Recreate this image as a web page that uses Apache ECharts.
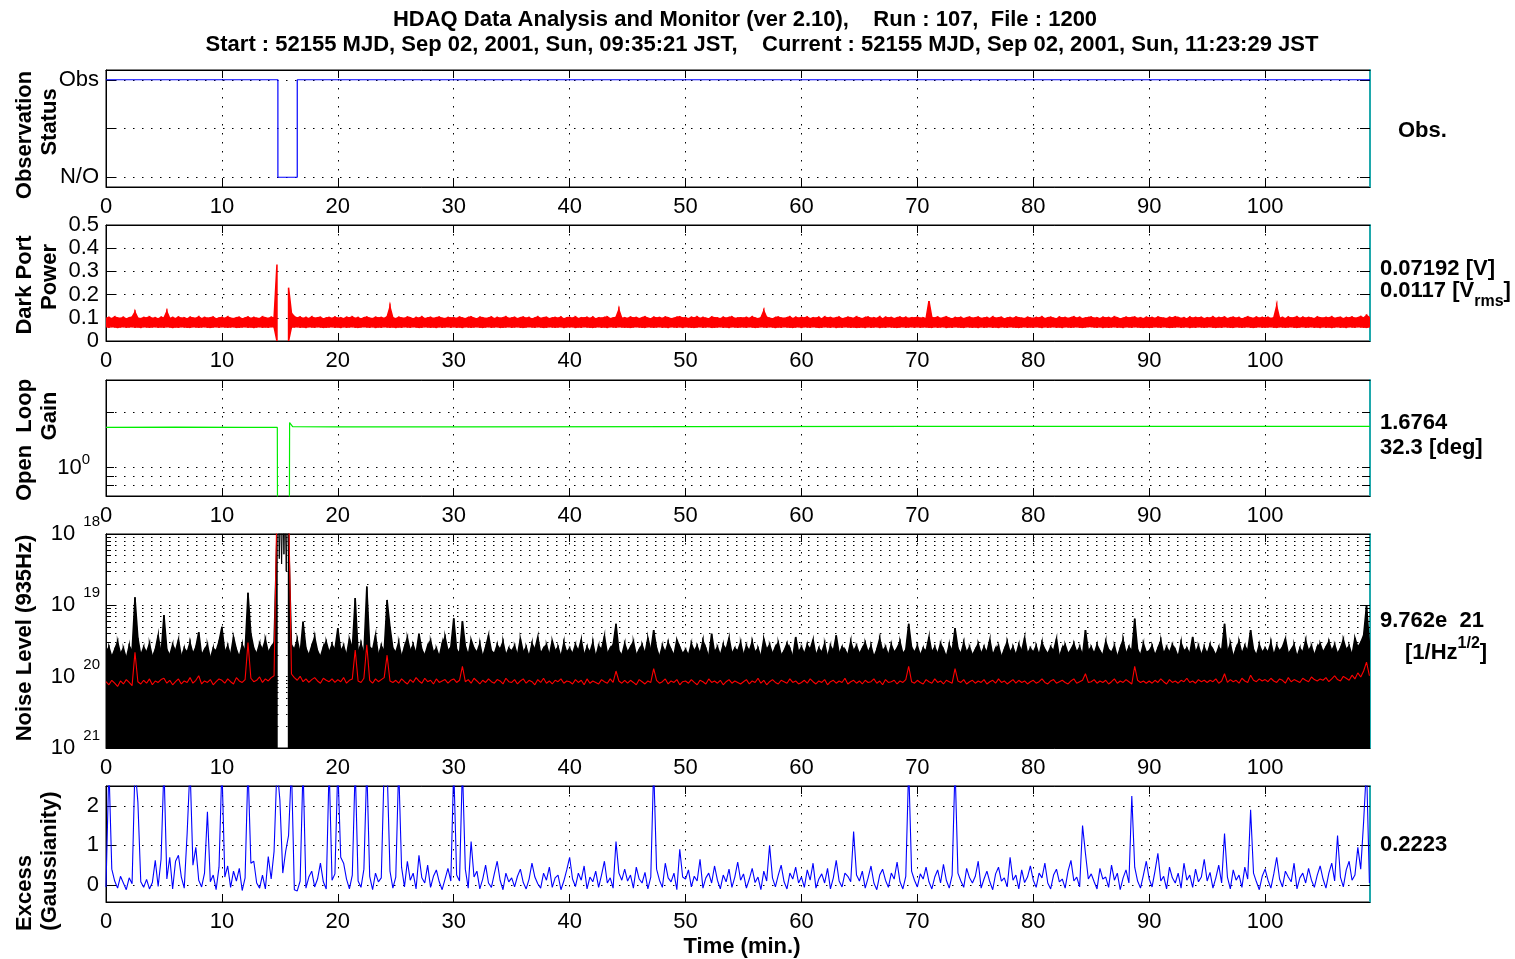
<!DOCTYPE html>
<html>
<head>
<meta charset="utf-8">
<title>HDAQ Data Analysis and Monitor</title>
<script src="https://cdn.jsdelivr.net/npm/echarts@6/dist/echarts.min.js"></script>
<style>
  html, body { margin: 0; padding: 0; background: #fff; }
  #chart { width: 1515px; height: 959px; }
</style>
</head>
<body>
<div id="chart"></div>
<script>
// ---------------------------------------------------------------------------
// Monitor data (one sample every SAMPLE_STEP minutes from run start)
// ---------------------------------------------------------------------------
const SAMPLE_STEP = 0.25;          // minutes between samples
const TIME_MAX = 109.05;           // right end of the time axis (min.)
const timeTicks = [0, 10, 20, 30, 40, 50, 60, 70, 80, 90, 100];

// Observation status (1 = Obs, 0 = N/O)
const obsTime  = [0, 14.83, 14.83, 16.5, 16.5, 109.05];
const obsState = [1, 1, 0, 0, 1, 1];
const obsTicks = [0, 0.5, 1];
const obsLabelValues = [0, 1];
const obsLabelText = ['N/O', 'Obs'];

// Dark port power, upper and lower edge of the trace [mV]
const darkTop = [
  98, 101, 96, 104, 99, 97, 102, 95, 100, 103, 125, 98, 96, 101, 99, 104, 97, 100, 95, 102,
  99, 127, 97, 101, 96, 103, 98, 100, 95, 102, 99, 97, 104, 96, 101, 98, 100, 103, 95, 99,
  101, 97, 104, 98, 96, 100, 102, 95, 99, 103, 97, 101, 98, 96, 104, 100, 97, 102, 99, 330,
  null, null, null, 230, 120, 105, 99, 103, 97, 101, 96, 104, 98, 100, 102, 95, 99, 101, 97, 103,
  98, 100, 96, 102, 99, 104, 97, 101, 95, 100, 103, 98, 96, 102, 99, 101, 97, 104, 147, 100,
  96, 102, 99, 97, 103, 100, 95, 101, 98, 104, 96, 99, 102, 97, 100, 103, 98, 96, 101, 99,
  100, 97, 103, 99, 96, 101, 104, 98, 95, 102, 100, 97, 99, 103, 96, 101, 98, 100, 104, 97,
  99, 102, 96, 100, 103, 98, 101, 95, 99, 104, 97, 100, 102, 96, 99, 101, 98, 103, 95, 100,
  101, 98, 104, 96, 100, 99, 102, 97, 103, 95, 100, 98, 101, 104, 96, 99, 102, 135, 98, 100,
  97, 103, 99, 101, 96, 100, 104, 98, 95, 102, 99, 101, 97, 103, 100, 96, 98, 102, 104, 99,
  100, 96, 102, 99, 104, 97, 101, 98, 95, 103, 100, 99, 96, 102, 98, 101, 104, 97, 99, 100,
  98, 101, 97, 104, 99, 96, 100, 130, 102, 98, 95, 101, 103, 99, 97, 100, 104, 96, 102, 98,
  101, 99, 103, 96, 100, 98, 102, 95, 104, 99, 101, 97, 100, 103, 96, 98, 102, 100, 97, 104,
  99, 96, 101, 103, 98, 100, 97, 104, 95, 102, 99, 101, 96, 100, 103, 98, 102, 97, 100, 99,
  102, 98, 100, 96, 172, 101, 99, 103, 97, 100, 104, 98, 95, 101, 99, 102, 96, 100, 103, 98,
  100, 103, 97, 99, 101, 96, 104, 98, 100, 102, 95, 99, 101, 97, 103, 100, 98, 96, 102, 99,
  97, 101, 99, 104, 96, 100, 102, 98, 95, 103, 99, 101, 97, 100, 104, 98, 102, 96, 99, 101,
  103, 98, 100, 96, 102, 99, 101, 97, 104, 100, 95, 98, 102, 99, 101, 103, 97, 100, 96, 102,
  99, 101, 97, 103, 100, 98, 96, 102, 99, 104, 101, 97, 100, 95, 103, 98, 101, 99, 102, 96,
  100, 98, 104, 97, 101, 99, 103, 96, 100, 102, 98, 101, 95, 99, 104, 100, 97, 103, 98, 101,
  99, 102, 97, 100, 150, 98, 101, 96, 103, 99, 100, 104, 97, 102, 98, 101, 99, 96, 103, 100,
  98, 101, 99, 104, 97, 100, 102, 96, 101, 99, 103, 98, 100, 105, 99, 110, 101
];
const darkLow = [
  61, 60, 62, 61, 59, 61, 62, 60, 61, 62, 60, 61, 59, 62, 61, 60, 61, 62, 60, 61,
  60, 62, 61, 59, 61, 60, 62, 61, 60, 59, 62, 61, 60, 61, 62, 60, 59, 61, 62, 60,
  62, 61, 60, 61, 62, 59, 60, 61, 62, 60, 61, 59, 61, 62, 60, 61, 60, 62, 61, 0,
  null, null, null, 0, 60, 61, 62, 60, 61, 59, 62, 61, 60, 62, 61, 59, 60, 61, 62, 60,
  61, 59, 62, 60, 61, 62, 60, 59, 61, 62, 61, 60, 62, 59, 61, 60, 62, 61, 60, 61,
  59, 61, 60, 62, 61, 60, 62, 61, 59, 60, 62, 61, 60, 61, 59, 62, 60, 61, 62, 60,
  62, 60, 61, 59, 62, 61, 60, 61, 62, 60, 59, 61, 62, 60, 61, 62, 59, 60, 61, 62,
  60, 61, 62, 60, 59, 61, 62, 61, 60, 62, 61, 59, 60, 62, 61, 60, 61, 62, 59, 61,
  61, 62, 59, 61, 60, 62, 61, 60, 59, 61, 62, 60, 61, 59, 62, 61, 60, 62, 61, 60,
  60, 59, 61, 62, 61, 60, 59, 62, 61, 60, 61, 62, 60, 61, 59, 62, 61, 60, 62, 59,
  62, 61, 60, 59, 61, 62, 60, 61, 62, 59, 60, 61, 62, 60, 61, 59, 62, 61, 60, 61,
  61, 60, 62, 61, 59, 60, 62, 61, 60, 62, 61, 59, 61, 60, 62, 61, 60, 59, 61, 62,
  59, 62, 61, 60, 62, 61, 59, 60, 62, 61, 60, 62, 59, 61, 60, 62, 61, 60, 61, 59,
  60, 61, 59, 62, 60, 61, 62, 59, 61, 60, 62, 61, 60, 59, 61, 62, 60, 61, 62, 60,
  62, 60, 61, 61, 60, 59, 62, 60, 61, 62, 59, 61, 60, 62, 61, 60, 59, 62, 61, 60,
  61, 59, 62, 60, 61, 62, 60, 61, 59, 62, 61, 60, 62, 61, 60, 59, 61, 62, 60, 61,
  60, 62, 61, 59, 62, 60, 61, 62, 60, 61, 59, 62, 61, 60, 61, 62, 60, 59, 61, 62,
  62, 61, 60, 62, 59, 61, 60, 61, 62, 60, 61, 59, 62, 61, 60, 62, 61, 60, 59, 61,
  59, 60, 62, 61, 60, 62, 61, 59, 60, 61, 62, 60, 61, 62, 59, 61, 60, 62, 61, 60,
  61, 62, 60, 59, 61, 60, 62, 61, 60, 59, 62, 61, 60, 61, 62, 60, 59, 61, 62, 60,
  60, 61, 62, 60, 59, 62, 61, 60, 61, 62, 60, 59, 61, 62, 60, 61, 62, 60, 61, 59,
  62, 60, 61, 59, 61, 62, 60, 61, 59, 62, 61, 60, 62, 61, 60, 59, 61
];
const darkTicks = [0, 0.1, 0.2, 0.3, 0.4, 0.5];

// Open loop gain (log scale)
const gainTime  = [0, 6, 12, 14.78, 14.8, 15.82, 15.84, 16.1, 20, 30, 50, 70, 90, 109.05];
const gainValue = [1.655, 1.66, 1.655, 1.655, 0.5, 0.5, 1.76, 1.67, 1.665, 1.668, 1.672, 1.675, 1.676, 1.676];
const gainTicks = [0.8, 0.9, 1, 2];
const gainLabelValues = [1];

// Noise level at 935 Hz: top of the broadband trace [1e-21 /rtHz]
const noiseTop = [
  22, 26, 19, 24, 31, 21, 25, 18, 27, 23, 130, 35, 20, 26, 22, 29, 19, 24, 38, 21,
  73, 24, 20, 28, 23, 33, 19, 25, 22, 30, 21, 26, 42, 20, 24, 28, 18, 25, 23, 31,
  50, 22, 27, 20, 36, 24, 19, 28, 23, 150, 40, 25, 21, 29, 24, 33, 22, 26, 30, 3000,
  null, null, null, 3000, 28, 24, 33, 21, 59, 25, 20, 27, 36, 23, 19, 26, 31, 22, 28, 24,
  48, 23, 27, 20, 34, 25, 127, 22, 29, 21, 184, 26, 24, 38, 20, 27, 23, 119, 50, 25,
  22, 30, 19, 26, 35, 23, 28, 21, 40, 24, 20, 27, 32, 22, 25, 19, 29, 36, 23, 26,
  66, 24, 21, 60, 27, 20, 33, 25, 22, 29, 19, 26, 38, 23, 21, 28, 24, 31, 20, 25,
  23, 27, 20, 34, 22, 26, 19, 29, 24, 36, 21, 25, 28, 20, 32, 23, 26, 19, 30, 22,
  25, 21, 28, 23, 33, 20, 26, 22, 30, 19, 27, 24, 37, 21, 25, 28, 55, 23, 20, 29,
  22, 26, 31, 20, 24, 28, 21, 35, 23, 45, 25, 19, 27, 22, 30, 24, 20, 33, 26, 21,
  24, 20, 29, 23, 27, 21, 32, 25, 19, 40, 22, 26, 20, 28, 24, 35, 21, 25, 23, 30,
  20, 27, 23, 31, 22, 25, 19, 34, 24, 28, 21, 26, 30, 20, 23, 29, 25, 19, 36, 22,
  26, 21, 28, 24, 33, 20, 25, 22, 29, 19, 27, 23, 38, 21, 26, 24, 20, 31, 23, 27,
  21, 25, 30, 22, 27, 19, 24, 34, 23, 26, 20, 28, 22, 25, 31, 21, 24, 55, 26, 22,
  27, 20, 25, 23, 36, 22, 26, 21, 29, 24, 19, 28, 23, 48, 25, 21, 30, 22, 26, 20,
  24, 29, 21, 26, 22, 33, 20, 25, 27, 19, 24, 31, 22, 26, 20, 28, 23, 35, 21, 25,
  22, 27, 20, 30, 24, 21, 26, 23, 34, 19, 25, 28, 21, 24, 29, 22, 26, 20, 45, 23,
  26, 21, 28, 23, 20, 31, 24, 22, 27, 19, 25, 33, 21, 26, 23, 65, 24, 20, 29, 22,
  23, 27, 20, 25, 32, 21, 26, 22, 28, 24, 19, 30, 23, 25, 21, 36, 22, 27, 20, 26,
  21, 28, 24, 20, 26, 23, 55, 22, 29, 19, 25, 31, 21, 27, 23, 45, 24, 20, 28, 22,
  25, 22, 30, 20, 27, 23, 26, 34, 21, 24, 28, 19, 25, 22, 32, 23, 27, 20, 26, 29,
  22, 26, 31, 23, 28, 21, 25, 33, 24, 27, 20, 35, 26, 30, 38, 100, 29
];
// Averaged noise level [1e-22 /rtHz]
const noiseAvg = [
  85, 77, 89, 81, 73, 87, 79, 91, 83, 75, 220, 85, 79, 89, 81, 93, 77, 87, 83, 91,
  95, 81, 89, 77, 85, 93, 79, 87, 83, 97, 81, 89, 103, 79, 87, 83, 91, 77, 85, 93,
  89, 81, 93, 85, 79, 97, 87, 83, 91, 300, 95, 85, 89, 99, 83, 93, 87, 97, 103, 30000,
  null, null, null, 30000, 109, 97, 89, 101, 85, 93, 83, 91, 97, 87, 81, 95, 89, 85, 93, 83,
  91, 85, 97, 81, 89, 93, 236, 87, 83, 95, 280, 89, 81, 93, 85, 91, 97, 200, 87, 83,
  89, 81, 93, 85, 79, 91, 83, 97, 87, 81, 95, 85, 89, 79, 93, 83, 87, 91, 81, 89,
  93, 83, 89, 140, 85, 91, 81, 95, 87, 79, 89, 83, 93, 85, 81, 91, 87, 79, 95, 85,
  83, 91, 79, 87, 93, 81, 89, 85, 77, 91, 83, 95, 81, 87, 79, 89, 85, 93, 81, 87,
  85, 79, 91, 83, 89, 77, 93, 81, 87, 83, 79, 91, 85, 81, 93, 83, 120, 87, 81, 89,
  81, 89, 83, 77, 91, 85, 79, 87, 83, 130, 89, 81, 85, 93, 79, 87, 83, 91, 77, 85,
  87, 81, 91, 83, 77, 89, 85, 79, 93, 83, 87, 81, 89, 77, 85, 91, 81, 87, 83, 79,
  85, 91, 79, 87, 83, 95, 81, 89, 77, 85, 91, 83, 79, 89, 85, 81, 93, 83, 87, 79,
  83, 89, 81, 93, 85, 79, 87, 83, 91, 77, 85, 89, 81, 87, 83, 95, 79, 85, 89, 81,
  87, 79, 89, 83, 85, 93, 81, 87, 77, 91, 83, 85, 89, 79, 87, 83, 91, 140, 85, 81,
  89, 83, 79, 91, 85, 81, 93, 83, 87, 79, 89, 85, 81, 130, 87, 83, 91, 79, 85, 89,
  81, 87, 83, 91, 79, 85, 89, 81, 93, 83, 87, 79, 85, 91, 81, 89, 83, 87, 79, 85,
  89, 81, 85, 93, 83, 79, 87, 91, 81, 85, 89, 83, 79, 87, 93, 81, 85, 89, 110, 83,
  85, 91, 81, 87, 83, 89, 79, 85, 93, 81, 87, 83, 91, 85, 79, 140, 89, 83, 87, 81,
  87, 81, 89, 83, 93, 85, 79, 91, 83, 87, 81, 89, 85, 95, 83, 87, 81, 91, 85, 89,
  83, 89, 85, 93, 81, 87, 110, 83, 91, 85, 89, 81, 95, 87, 83, 105, 89, 85, 93, 87,
  91, 85, 95, 87, 83, 93, 89, 81, 97, 85, 91, 87, 83, 95, 89, 85, 99, 91, 87, 93,
  89, 97, 85, 93, 103, 91, 87, 101, 95, 89, 105, 93, 113, 99, 120, 160, 103
];
// Broadband trace while the interferometer was out of observation [1e-21 /rtHz]
const noiseGapTime  = [14.85, 14.95, 15.05, 15.15, 15.25, 15.35, 15.45, 15.55, 15.65, 15.75, 15.85];
const noiseGapLevel = [3000, 450, 3000, 380, 3000, 520, 3000, 300, 3000, 650, 3000];
const noiseDecades = [1e-21, 1e-20, 1e-19, 1e-18];
const noiseMinorSteps = [2, 3, 4, 5, 6, 7, 8, 9];

// Excess kurtosis (Gaussianity) [x0.01]
const excess = [
  -5, 300, 40, 10, -8, 22, 5, -12, 18, 3, 300, 210, 8, -6, 14, -10, 6, 62, -4, 65,
  300, 15, 70, -10, 60, 75, 20, -8, 130, 300, 50, 95, 12, -5, 30, 185, 8, 25, -12, 45,
  300, 20, 48, -6, 35, 10, 42, -14, 18, 300, 55, 60, 5, -8, 25, -10, 72, 15, 85, 300,
  215, 30, 85, 125, 300, -12, -15, 10, 300, -8, 20, 35, -5, 15, 55, 8, -10, 300, 12, 28,
  300, 70, 55, 15, -10, 25, 300, 10, -6, 40, 300, 22, -12, 30, 8, 18, 300, 300, 35, -8,
  20, 300, 45, -5, 60, 12, 30, -10, 75, 18, 5, 50, -6, 22, 38, 8, -12, 15, 42, 10,
  300, 25, 10, 300, 40, -8, 110, 20, 35, -10, 15, 50, 5, -6, 28, 60, 12, -12, 30, 8,
  18, -5, 22, 40, 6, -10, 15, 55, 20, 3, -8, 30, 12, 45, -6, 18, 25, -12, 10, 38,
  70, 15, -4, 30, 12, 48, -10, 20, 8, 35, -6, 25, 60, 5, 18, -8, 110, 30, 12, 40,
  10, 25, -8, 45, 15, 5, 32, -10, 20, 300, 40, 12, -6, 55, 18, 8, 30, -12, 90, 20,
  15, 38, -5, 22, 10, 65, -8, 18, 30, 5, 48, 12, -10, 25, 8, 40, -6, 20, 58, 12,
  28, -8, 15, 42, 6, 20, -12, 35, 10, 100, 18, -5, 25, 50, 8, -10, 30, 15, 45, 5,
  20, -6, 38, 12, 55, -8, 15, 28, 5, 42, -10, 18, 62, 10, -5, 30, 22, 8, 135, 25,
  10, 35, -8, 18, 48, 5, -12, 25, 40, 12, -6, 30, 15, 58, 8, -10, 22, 300, 35, 12,
  -5, 28, 15, 45, 8, -10, 20, 38, 5, 52, 12, -8, 25, 300, 30, 10, -6, 42, 18, 5,
  22, 60, -8, 15, 35, 8, -12, 28, 45, 10, 18, -5, 70, 12, 25, -10, 38, 6, 20, 48,
  12, -6, 30, 18, 55, 5, -10, 25, 40, 8, 15, -8, 35, 62, 10, 20, -5, 150, 80, 15,
  28, 8, -10, 42, 15, 20, -6, 50, 12, 30, -12, 18, 38, 5, 225, 45, 10, -8, 25, 60,
  15, -5, 35, 80, 10, 22, -10, 45, 18, 5, 30, -8, 55, 12, 25, -6, 40, 8, 20, 65,
  10, 32, -8, 18, 50, 5, 130, 20, -10, 38, 12, 25, -6, 45, 15, 190, 30, 8, -12, 22,
  40, 12, -8, 28, 70, 15, -5, 35, 20, 8, 55, -10, 18, 30, 5, 42, 12, -6, 25, 48,
  15, -8, 30, 55, 10, 125, 20, -5, 38, 60, 12, 25, 95, 40, 160, 300, 5
];
const excessTicks = [0, 1, 2];

// ---------------------------------------------------------------------------
// Layout and styling
// ---------------------------------------------------------------------------
const FONT = '"Liberation Sans", Arial, Helvetica, sans-serif';
const TEAL = '#1fa8ac';
const DOTTED = { color: '#000', width: 1, type: [1.5, 7.5] };
const PLOT_LEFT = 106, PLOT_WIDTH = 1264;
const panels = [
  { top: 70,  height: 117 },   // observation status
  { top: 225, height: 116 },   // dark port power
  { top: 380, height: 116 },   // open loop gain
  { top: 534, height: 214 },   // noise level
  { top: 786, height: 116 }    // excess
];

const sampleTime = i => Math.round(i * SAMPLE_STEP * 100) / 100;
const toPairs = (values, unit) => values.map((v, i) => [sampleTime(i), v === null ? null : v * unit]);

const grids = panels.map(p => ({
  left: PLOT_LEFT, width: PLOT_WIDTH, top: p.top, height: p.height,
  show: true, borderColor: '#000', borderWidth: 1, backgroundColor: '#fff',
  containLabel: false, outerBoundsMode: 'none'
}));

const xAxes = [];
panels.forEach((p, g) => {
  xAxes.push({
    gridIndex: g, type: 'value', position: 'bottom', min: 0, max: TIME_MAX, interval: 10,
    axisLine: { show: true, onZero: false, lineStyle: { color: '#000', width: 1 } },
    axisTick: { show: true, inside: true, length: 8, customValues: timeTicks, lineStyle: { color: '#000' } },
    axisLabel: { show: true, customValues: timeTicks, fontSize: 22, color: '#000', fontFamily: FONT, margin: 9 },
    splitLine: { show: true, lineStyle: DOTTED }
  });
  xAxes.push({
    gridIndex: g, type: 'value', position: 'top', min: 0, max: TIME_MAX, interval: 10,
    axisLine: { show: true, onZero: false, lineStyle: { color: '#000', width: 1 } },
    axisTick: { show: true, inside: true, length: 8, customValues: timeTicks, lineStyle: { color: '#000' } },
    axisLabel: { show: false }, splitLine: { show: false }
  });
});

const yAxes = [];
function addY(cfg) { yAxes.push(cfg); return yAxes.length - 1; }
function leftAxis(g, scale, ticks, tickLen, label, split) {
  return Object.assign({
    gridIndex: g, position: 'left',
    axisLine: { show: true, onZero: false, lineStyle: { color: '#000', width: 1 } },
    axisTick: { show: true, inside: true, length: tickLen, customValues: ticks, lineStyle: { color: '#000' } },
    axisLabel: label ? Object.assign({ show: true, fontSize: 22, color: '#000', fontFamily: FONT, margin: 7 }, label) : { show: false },
    splitLine: { show: split, lineStyle: DOTTED }
  }, scale);
}
function rightAxis(g, scale, ticks, tickLen, withLine) {
  return Object.assign({
    gridIndex: g, position: 'right',
    axisLine: { show: withLine, onZero: false, lineStyle: { color: TEAL, width: 2 } },
    axisTick: { show: true, inside: true, length: tickLen, customValues: ticks, lineStyle: { color: '#000' } },
    axisLabel: { show: false }, splitLine: { show: false }
  }, scale);
}

// panel 0: observation status
const obsScale = { type: 'value', min: -0.1, max: 1.1 };
const yObs = addY(leftAxis(0, obsScale, obsTicks, 10, {
  customValues: obsLabelValues, formatter: v => obsLabelText[obsLabelValues.indexOf(v)]
}, true));
addY(rightAxis(0, obsScale, obsTicks, 10, true));

// panel 1: dark port power
const darkScale = { type: 'value', min: 0, max: 0.5, interval: 0.1 };
const yDark = addY(leftAxis(1, darkScale, darkTicks, 10, { customValues: darkTicks }, true));
addY(rightAxis(1, darkScale, darkTicks, 10, true));

// panel 2: open loop gain
const gainScale = { type: 'log', logBase: 10, min: 0.7, max: 3 };
const yGain = addY(leftAxis(2, gainScale, gainTicks, 8, {
  customValues: gainLabelValues,
  formatter: v => '{b|10}{s|' + Math.round(Math.log10(v)) + '}',
  margin: 16,
  rich: { b: { fontSize: 22, fontFamily: FONT, color: '#000' },
          s: { fontSize: 15, fontFamily: FONT, color: '#000', padding: [0, 0, 16, 0] } }
}, true));
addY(rightAxis(2, gainScale, gainTicks, 8, true));

// panel 3: noise level, major (decades) and minor ticks
const noiseScale = { type: 'log', logBase: 10, min: noiseDecades[0], max: noiseDecades[noiseDecades.length - 1] };
const noiseMinor = [];
noiseDecades.slice(0, -1).forEach(d => noiseMinorSteps.forEach(m => noiseMinor.push(+(d * m).toPrecision(3))));
const yNoise = addY(leftAxis(3, noiseScale, noiseDecades, 10, {
  customValues: noiseDecades,
  formatter: v => '{b|10}{s|' + Math.round(-Math.log10(v)) + '}',
  margin: 6,
  rich: { b: { fontSize: 22, fontFamily: FONT, color: '#000' },
          s: { fontSize: 15, fontFamily: FONT, color: '#000', padding: [0, 0, 24, 8] } }
}, true));
addY(leftAxis(3, noiseScale, noiseMinor, 5, null, true));
addY(rightAxis(3, noiseScale, noiseDecades, 10, true));
addY(rightAxis(3, noiseScale, noiseMinor, 5, false));

// panel 4: excess (gaussianity)
const excessScale = { type: 'value', min: -0.43, max: 2.5 };
const yExcess = addY(leftAxis(4, excessScale, excessTicks, 10, { customValues: excessTicks }, true));
addY(rightAxis(4, excessScale, excessTicks, 10, true));

// ---------------------------------------------------------------------------
// Series
// ---------------------------------------------------------------------------
// A dense trace drawn as a filled band between its lower and upper edge:
// each sample [t, low, high] is joined to the next one by a filled quad.
function bandRenderer(yMin, yMax, color) {
  const clamp = v => Math.min(Math.max(v, yMin), yMax);
  return function (params, api) {
    const i = params.dataIndexInside;
    if (i + 1 >= params.dataInsideLength) return null;
    const t0 = api.value(0, i), lo0 = api.value(1, i), hi0 = api.value(2, i);
    const t1 = api.value(0, i + 1), lo1 = api.value(1, i + 1), hi1 = api.value(2, i + 1);
    if ([lo0, hi0, lo1, hi1].some(v => v == null || isNaN(v))) return null;
    const pts = [
      api.coord([t0, clamp(hi0)]), api.coord([t1, clamp(hi1)]),
      api.coord([t1, clamp(lo1)]), api.coord([t0, clamp(lo0)])
    ];
    return { type: 'polygon', shape: { points: pts }, style: { fill: color, stroke: color, lineWidth: 1.5, lineJoin: 'miter' } };
  };
}

const lineBase = { type: 'line', symbol: 'none', showSymbol: false, silent: true, animation: false, clip: true };
const series = [
  Object.assign({}, lineBase, {
    name: 'Observation', xAxisIndex: 0, yAxisIndex: yObs,
    data: obsTime.map((x, k) => [x, obsState[k]]),
    lineStyle: { color: '#0000ff', width: 1.2 }
  }),
  {
    type: 'custom', name: 'Dark port power', xAxisIndex: 2, yAxisIndex: yDark,
    silent: true, animation: false, clip: true,
    encode: { x: 0, y: [1, 2] },
    data: darkTop.map((v, i) => [sampleTime(i),
      darkLow[i] === null ? null : darkLow[i] * 0.001,
      v === null ? null : v * 0.001]),
    renderItem: bandRenderer(darkScale.min, darkScale.max, '#ff0000')
  },
  Object.assign({}, lineBase, {
    name: 'Open loop gain', xAxisIndex: 4, yAxisIndex: yGain,
    data: gainTime.map((x, k) => [x, gainValue[k]]),
    lineStyle: { color: '#00ee00', width: 1.2 }
  }),
  {
    type: 'custom', name: 'Noise level', xAxisIndex: 6, yAxisIndex: yNoise,
    silent: true, animation: false, clip: true,
    encode: { x: 0, y: [1, 2] },
    data: noiseTop.map((v, i) => [sampleTime(i),
      v === null ? null : noiseScale.min,
      v === null ? null : v * 1e-21]),
    renderItem: bandRenderer(noiseScale.min, noiseScale.max, '#000000')
  },
  Object.assign({}, lineBase, {
    name: 'Noise level (out of obs.)', xAxisIndex: 6, yAxisIndex: yNoise,
    data: noiseGapTime.map((x, k) => [x, noiseGapLevel[k] * 1e-21]),
    lineStyle: { color: '#000', width: 1 }
  }),
  Object.assign({}, lineBase, {
    name: 'Noise level (average)', xAxisIndex: 6, yAxisIndex: yNoise,
    data: toPairs(noiseAvg, 1e-22),
    lineStyle: { color: '#ff0000', width: 1.1 }
  }),
  Object.assign({}, lineBase, {
    name: 'Excess', xAxisIndex: 8, yAxisIndex: yExcess,
    data: toPairs(excess, 0.01),
    lineStyle: { color: '#0000ff', width: 1.1 }
  })
];

// ---------------------------------------------------------------------------
// Text: title, axis names, current values
// ---------------------------------------------------------------------------
const BOLD = 'bold 22px ' + FONT;
function txt(x, y, text, opts) {
  return Object.assign({
    type: 'text', x: x, y: y, silent: true,
    style: Object.assign({ text: text, font: BOLD, fill: '#000', align: 'left', verticalAlign: 'middle' }, (opts && opts.style) || {})
  }, (opts && opts.el) || {});
}
const vertical = { el: { rotation: Math.PI / 2 }, style: { align: 'center' } };
const graphics = [
  txt(745, 20, 'HDAQ Data Analysis and Monitor (ver 2.10),    Run : 107,  File : 1200', { style: { align: 'center' } }),
  txt(762, 45, 'Start : 52155 MJD, Sep 02, 2001, Sun, 09:35:21 JST,    Current : 52155 MJD, Sep 02, 2001, Sun, 11:23:29 JST', { style: { align: 'center' } }),

  txt(25, 135, 'Observation', vertical),
  txt(50, 122, 'Status', vertical),
  txt(25, 285, 'Dark Port', vertical),
  txt(50, 277, 'Power', vertical),
  txt(25, 440, 'Open  Loop', vertical),
  txt(50, 416, 'Gain', vertical),
  txt(25, 638, 'Noise Level (935Hz)', vertical),
  txt(25, 893, 'Excess', vertical),
  txt(50, 861, '(Gaussianity)', vertical),

  txt(742, 947, 'Time (min.)', { style: { align: 'center' } }),

  txt(1398, 131, 'Obs.'),
  txt(1380, 269, '0.07192 [V]'),
  txt(1380, 291, '0.0117 [V{sub|rms}]', { style: { rich: {
    sub: { fontSize: 16, fontWeight: 'bold', fontFamily: FONT, fill: '#000', padding: [22, 0, 0, 0] } } } }),
  txt(1380, 423, '1.6764'),
  txt(1380, 448, '32.3 [deg]'),
  txt(1380, 621, '9.762e  21'),
  txt(1405, 653, '[1/Hz{sup|1/2}]', { style: { rich: {
    sup: { fontSize: 16, fontWeight: 'bold', fontFamily: FONT, fill: '#000', padding: [0, 0, 18, 0] } } } }),
  txt(1380, 845, '0.2223')
];

const chart = echarts.init(document.getElementById('chart'), null, { renderer: 'canvas' });
chart.setOption({
  animation: false,
  backgroundColor: '#fff',
  textStyle: { fontFamily: FONT },
  grid: grids,
  xAxis: xAxes,
  yAxis: yAxes,
  series: series,
  graphic: { elements: graphics }
});
</script>
</body>
</html>
